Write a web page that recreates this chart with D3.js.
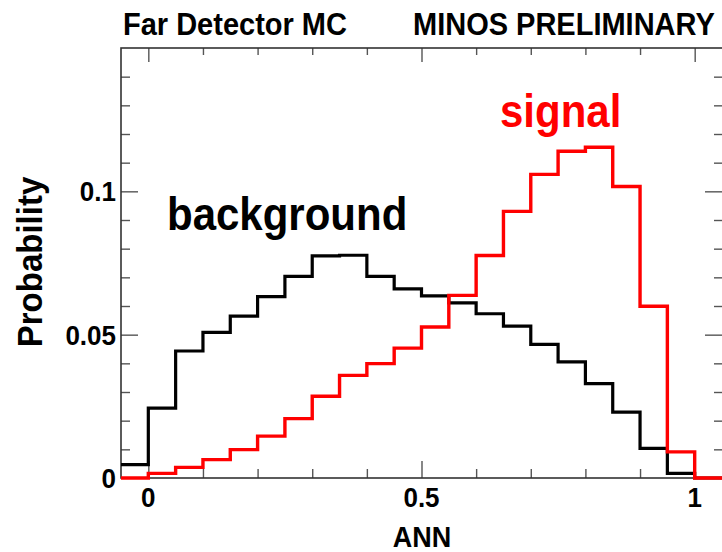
<!DOCTYPE html>
<html>
<head>
<meta charset="utf-8">
<script src="https://cdn.jsdelivr.net/npm/d3@7/dist/d3.min.js"></script>
<style>
  html, body { margin: 0; padding: 0; background: #fff; }
  svg { display: block; }
  text { font-family: "Liberation Sans", Arial, Helvetica, sans-serif; font-weight: bold; }
</style>
</head>
<body>
<svg id="chart" width="722" height="552"></svg>
<script>
// ANN output histograms (bin width 0.05, first bin starts at -0.05)
const binStart = -0.05;
const binWidth = 0.05;
const background = [0.0047, 0.0244, 0.0443, 0.0508, 0.0565, 0.0633, 0.0703, 0.0775, 0.0777, 0.0703, 0.0660,
                    0.0635, 0.0611, 0.0573, 0.0530, 0.0466, 0.0405, 0.0329, 0.0230, 0.0103, 0.0016, 0.0000];
const signal = [0.0000, 0.0016, 0.0037, 0.0064, 0.0099, 0.0146, 0.0207, 0.0285, 0.0358, 0.0399, 0.0453,
                0.0527, 0.0637, 0.0776, 0.0930, 0.1059, 0.1140, 0.1154, 0.1017, 0.0599, 0.0091, 0.0000];
const xMajorTicks = [0, 0.5, 1];
const xTickLabels = ["0", "0.5", "1"];
const yMajorTicks = [0, 0.05, 0.1];
const yTickLabels = ["0", "0.05", "0.1"];

const svg = d3.select("#chart");
const plotL = 121, plotR = 722, plotT = 48, plotB = 478;
const stretch = 1.08; // glyphs are a little taller than the stock face

const x = d3.scaleLinear().domain([-0.05, 1.05]).range([plotL, plotR]);
const y = d3.scaleLinear().domain([0, 0.15]).range([plotB, plotT]);

const xMinor = d3.range(0, 11).map(i => i / 10)
  .filter(v => !xMajorTicks.some(m => Math.abs(m - v) < 1e-9));
const yMinor = d3.range(1, 15).map(i => i / 100)
  .filter(v => !yMajorTicks.some(m => Math.abs(m - v) < 1e-9));

// tick marks on all four sides, drawn inward
function styleAxis(g) {
  g.select(".domain").remove();
  g.selectAll(".tick line").attr("stroke", "#555").attr("stroke-width", 1.4);
  g.selectAll(".tick text").remove();
}
svg.append("g").attr("transform", `translate(0,${plotB})`)
  .call(d3.axisTop(x).tickValues(xMajorTicks).tickSize(17)).call(styleAxis);
svg.append("g").attr("transform", `translate(0,${plotB})`)
  .call(d3.axisTop(x).tickValues(xMinor).tickSize(9)).call(styleAxis);
svg.append("g").attr("transform", `translate(0,${plotT})`)
  .call(d3.axisBottom(x).tickValues(xMajorTicks).tickSize(14)).call(styleAxis);
svg.append("g").attr("transform", `translate(0,${plotT})`)
  .call(d3.axisBottom(x).tickValues(xMinor).tickSize(7)).call(styleAxis);
svg.append("g").attr("transform", `translate(${plotL},0)`)
  .call(d3.axisRight(y).tickValues(yMajorTicks.filter(v => v > 0)).tickSize(17)).call(styleAxis);
svg.append("g").attr("transform", `translate(${plotL},0)`)
  .call(d3.axisRight(y).tickValues(yMinor).tickSize(9)).call(styleAxis);
svg.append("g").attr("transform", `translate(${plotR},0)`)
  .call(d3.axisLeft(y).tickValues(yMajorTicks.filter(v => v > 0)).tickSize(17)).call(styleAxis);
svg.append("g").attr("transform", `translate(${plotR},0)`)
  .call(d3.axisLeft(y).tickValues(yMinor).tickSize(8)).call(styleAxis);

// frame
svg.append("rect")
  .attr("x", plotL).attr("y", plotT)
  .attr("width", plotR - plotL + 2).attr("height", plotB - plotT)
  .attr("fill", "none").attr("stroke", "#333").attr("stroke-width", 1.6);

// text helper: place at (tx, ty) with a slight vertical stretch
function label(tx, ty, str, size, color, anchor, rotate) {
  const rot = rotate ? ` rotate(${rotate})` : "";
  return svg.append("text")
    .attr("transform", `translate(${tx},${ty})${rot} scale(1,${stretch})`)
    .attr("text-anchor", anchor || "start")
    .attr("font-size", size).attr("fill", color)
    .text(str);
}

// tick labels
xMajorTicks.forEach((v, i) => label(x(v), 507, xTickLabels[i], 26, "#000", "middle"));
yMajorTicks.forEach((v, i) => label(116, y(v) + 10, yTickLabels[i], 26, "#000", "end"));

// histogram outlines
function stepPoints(vals) {
  const pts = vals.map((v, i) => [binStart + i * binWidth, v]);
  pts.push([binStart + vals.length * binWidth, vals[vals.length - 1]]);
  return pts;
}
const line = d3.line().x(d => x(d[0])).y(d => y(d[1])).curve(d3.curveStepAfter);

svg.append("path").datum(stepPoints(background))
  .attr("d", line).attr("fill", "none").attr("stroke", "#000").attr("stroke-width", 3.2);
svg.append("path").datum(stepPoints(signal))
  .attr("d", line).attr("fill", "none").attr("stroke", "#ff0000").attr("stroke-width", 3.4);

// titles and labels
label(123, 35, "Far Detector MC", 29, "#000");
label(413, 35, "MINOS PRELIMINARY", 29, "#000");
label(167, 230, "background", 42, "#000");
label(500, 127, "signal", 42, "#ff0000");
label(422, 547, "ANN", 27, "#000", "middle");
label(42, 262, "Probability", 33, "#000", "middle", -90);
</script>
</body>
</html>
